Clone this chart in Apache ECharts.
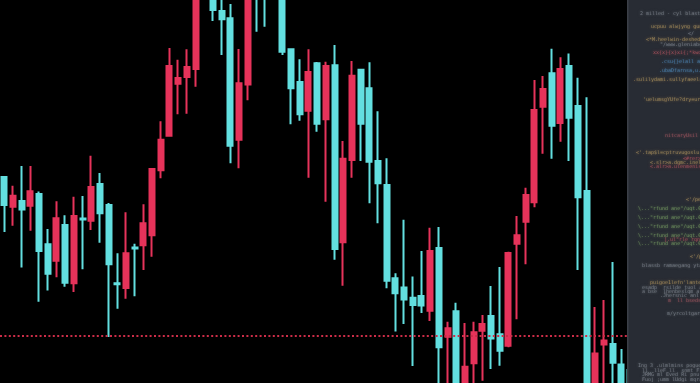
<!DOCTYPE html>
<html>
<head>
<meta charset="utf-8">
<script src="https://cdn.jsdelivr.net/npm/echarts@6/dist/echarts.min.js"></script>
<style>
html,body{margin:0;padding:0;background:#000;}
#chart{width:700px;height:383px;}
</style>
</head>
<body>
<div id="chart"></div>
<script>
const categories = ['1','2','3','4','5','6','7','8','9','10','11','12','13','14','15','16','17','18','19','20','21','22','23','24','25','26','27','28','29','30','31','32','33','34','35','36','37','38','39','40','41','42','43','44','45','46','47','48','49','50','51','52','53','54','55','56','57','58','59','60','61','62','63','64','65','66','67','68','69','70','71','72','73'];
const openVals = [223,193.3,199,194.3,206,155.7,139.3,175,116.7,181.5,179.3,216,195,116.8,112,152.5,154.7,164.7,229.7,264.3,316.3,323,331,404,410,389,381.7,260.3,315.5,430,425,440,410,350.7,318,289.3,336.7,280.7,334.7,157.7,240,330.3,311.7,239,215,121.7,112.5,102.3,104,89.3,152,63.3,88.7,5,36.7,69.3,84,65.7,54.3,156.3,178.3,197.7,293.3,326.7,277,334,294,209,5,55.5,56,35.5,30];
const closeVals = [195,204.3,190.5,208.7,149,126.3,181.7,117.3,184,180.5,213,186.7,135.7,115.8,146.7,151.5,176.7,231,260.3,334,322,333,405,418,390,380.7,254.3,316.7,405,403,402,415,348.3,311.7,285.7,328,276.3,334,151,241.3,324.3,276.3,238.3,216.7,119.3,106.7,100.5,95,94.5,149,52.7,71.7,5,33.3,67.7,76,61.5,49.3,147,164.7,205,290,311,274.3,331,282.3,202.7,5,46.5,59.5,37.3,5,5];
const highVals = [224,214.3,234,234,208.5,171,198.7,184.7,203.3,204,244.3,227,197,146.7,187.7,156.3,195.7,231.5,278.7,352,340.3,350.7,410,424,415,402,396,351,410,440,435,445,420,351.7,340.7,350.7,338,338.3,355,259,339,330.7,337.7,288.7,241.7,126.7,180.3,123.5,149,172.3,173,78.3,97.3,77,78.3,85,114,133,148.3,184,212.3,320,324,351.3,342.7,346.5,322.3,302.7,93,100,138,51,32];
const lowVals = [168,174.3,132.5,169.3,98.3,109.5,122.7,113.3,108,130.7,170,157.3,63,91.3,101.3,103.7,130,143.3,221.7,263.3,285.7,286.3,313.3,403,379,345,236.7,231.7,299.7,368.3,373.3,405,345,275.7,279.3,222.3,268.3,198.3,140.3,114.3,222.3,239,196.7,176.7,111.7,68.5,76,34,87,79,10,10,0,0,10,19.3,31,34.3,52.7,80.7,135.7,192.7,246.3,241.3,258.3,239,130,0,0,10,10,0,0];
const dottedLevel = 64.5;

const codeLines = [
  ['2 milled - cyl blasts ame', '#9aa0aa', 640, 14],
  ['ucpuu alwjyng gungas', '#d7b36a', 651, 27],
  ['</', '#9aa0aa', 688, 34],
  ['<*M.heelwin-deshed. elnsam F', '#d7b36a', 646, 40],
  ['"/www.gleniabe.s', '#9aa0aa', 660, 45],
  ['xx{x}{x}xi{;*kwq}gl', '#d7606b', 653, 53],
  ['.csu{}elall amnt', '#5aa3e0', 661, 62],
  ['.ubaDfarnsa,u.gaw', '#5aa3e0', 659, 71],
  ['.sulilydami.sullyfaeelsdasa', '#d7b36a', 633, 80],
  ["'uelumsgYUfe?dry=urls(gre", '#d7b36a', 643, 100],
  ['nitcaryUsil :2. ScU', '#c9656f', 665, 136],
  ["<'.tap$l=cptruvugoslu.fiefa", '#d7b36a', 636, 153],
  ['<#rer>', '#d7606b', 683, 159],
  ['<.slr>a.dqmc.inelegao', '#d7b36a', 650, 163],
  ['<.alr>a.ulenmenisdiad', '#d7606b', 650, 167],
  ["<'/pel", '#d7b36a', 686, 200],
  ['\\..."rfund ane"/uqt.0Dlpr', '#8fbf72', 638, 209],
  ['\\..."rfund ane"/uqt.0Dlpr', '#8fbf72', 638, 218],
  ['\\..."rfund ane"/uqt.0Dlpr', '#8fbf72', 638, 227],
  ['\\..."rfund ane"/uqt.0Dlpr', '#8fbf72', 638, 236],
  ['[.ul"rle rqnlB.', '#d7606b', 664, 240],
  ['\\..."rfund ane"/uqt.0Dlpr', '#8fbf72', 638, 244],
  ["<'/pelt", '#d7b36a', 690, 257],
  ['blassb ramaegang ytama sl', '#9aa0aa', 642, 266],
  ["puigoe1lefn'lantelsspe", '#d7b36a', 650, 283],
  ['esadp  rsilde tuol a mmbly', '#9aa0aa', 642, 288],
  ['a bse  lhenbeslqm a  amlsy', '#9aa0aa', 642, 292],
  ['.Jhersnic anl ausrsa', '#9aa0aa', 660, 296],
  ['m  ll bseds ecsrn', '#c9656f', 668, 301],
  ['m/yrcoltgarng  "', '#9aa0aa', 667, 314],
  ['Ing 3 .ulmlmins pogueltslo', '#9aa0aa', 638, 366],
  ['ll  lleF ll  snmt Fllo ern', '#9aa0aa', 642, 371],
  ['JRMG ml Eved Ri pnuresd m', '#9aa0aa', 642, 375],
  ['Fuoj ;umm lUdgi mqraj ro', '#9aa0aa', 642, 380]
];

const chart = echarts.init(document.getElementById('chart'), null, {renderer: 'canvas'});
const seriesData = openVals.map((o, i) => [o, closeVals[i], lowVals[i], highVals[i]]);
const RED = '#e6335a';
const CYAN = '#63dfe0';

const textEls = codeLines.map(l => ({
  type: 'text', x: l[2], y: l[3], z: 110,
  style: { text: l[0], fill: l[1], opacity: 0.6, font: '5px "DejaVu Sans Mono", monospace', textVerticalAlign: 'middle', textShadowColor: l[1], textShadowBlur: 3 }
}));

chart.setOption({
  backgroundColor: '#000000',
  animation: false,
  grid: { left: -4.07, top: 0, width: 638.4, height: 383, containLabel: false },
  xAxis: { type: 'category', data: categories, show: false, boundaryGap: true },
  yAxis: { type: 'value', min: 17, max: 400, show: false, splitLine: { show: false } },
  series: [{
    type: 'candlestick',
    data: seriesData,
    barWidth: 5.5,
    clip: true,
    itemStyle: { color: RED, color0: CYAN, borderColor: RED, borderColor0: CYAN, borderWidth: 2 },
    markLine: {
      silent: true,
      symbol: 'none',
      z: 10,
      label: { show: false },
      lineStyle: { color: '#cc2d48', type: [2, 2.4], width: 2, opacity: 1 },
      data: [{ yAxis: dottedLevel }]
    }
  }],
  graphic: { elements: [
    { type: 'rect', z: 100, shape: { x: 627, y: 0, width: 73, height: 383 }, style: { fill: '#282c34' } },
    { type: 'rect', z: 101, shape: { x: 627, y: 0, width: 1.5, height: 383 }, style: { fill: '#3b3f47' } }
  ].concat(textEls) }
});
</script>
</body>
</html>
